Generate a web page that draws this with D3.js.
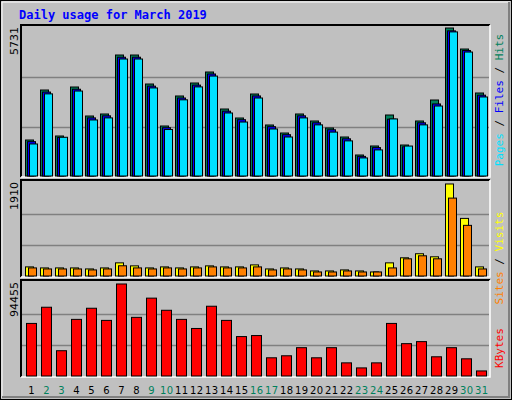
<!DOCTYPE html><html><head><script src="https://d3js.org/d3.v7.min.js"></script>
<style>body{margin:0;background:#fff}</style></head><body><script>
const days=d3.range(1,32);
const weekend=[2,3,9,10,16,17,23,24,30,31];
const hits=[1394,3330,1549,3446,2323,2401,4685,4685,3562,1936,3098,3601,4027,2594,2246,3175,1975,1665,2401,2130,1859,1510,813,1162,2362,1200,2130,2943,5731,4917,3214];
const files=[1330,3250,1490,3360,2250,2330,4600,4600,3480,1870,3020,3520,3950,2510,2180,3100,1910,1600,2330,2060,1790,1440,760,1100,2200,1130,2060,2790,5620,4860,3130];
const pages=[1240,3180,1500,3290,2170,2250,4530,4530,3410,1800,2950,3450,3870,2440,2090,3020,1820,1510,2250,1980,1700,1360,700,1010,2210,1160,1980,2710,5580,4800,3060];
const visits=[187,166,166,166,145,166,270,208,166,187,166,187,208,187,187,228,145,166,145,104,104,125,104,83,270,374,457,394,1890,1183,187];
const sites=[166,145,145,145,125,145,210,166,145,166,145,166,187,166,166,187,125,145,125,83,83,104,83,83,166,353,415,353,1600,1040,145];
const kbytes=[53400,69840,25680,57510,68810,56480,93450,59570,79080,66750,57510,48270,70860,56480,40050,41080,18490,20540,28760,18490,28760,13350,8220,13350,53400,32860,34920,19510,28760,17460,5140];
const maxes=[5731,1910,94455];
const W=512,H=400;
const svg=d3.select("body").append("svg").attr("width",W).attr("height",H).style("font-family","DejaVu Sans Mono");
svg.append("rect").attr("x",0.5).attr("y",0.5).attr("width",W-1).attr("height",H-1).attr("fill","#c0c0c0").attr("stroke","#000");
svg.append("path").attr("d","M2,398V2H510").attr("fill","none").attr("stroke","#fff");
svg.append("path").attr("d","M2,397H509V2").attr("fill","none").attr("stroke","#808080").attr("stroke-width",2);
svg.append("text").attr("x",19).attr("y",19).text("Daily usage for March 2019").attr("fill","#0000ff").attr("font-weight","bold").attr("font-size",12);
const x=d3.scaleBand().domain(days).range([21,486]).padding(0);
const panels=[{top:25,bot:177},{top:180,bot:277},{top:280,bot:377}];
panels.forEach((p,i)=>{
  svg.append("rect").attr("x",21).attr("y",p.top).attr("width",469).attr("height",p.bot-p.top).attr("fill","#c0c0c0");
  svg.append("path").attr("d",`M21,${p.bot}V${p.top}H490`).attr("fill","none").attr("stroke","#000").attr("stroke-width",2);
  svg.append("path").attr("d",`M21,${p.bot}H490V${p.top}`).attr("fill","none").attr("stroke","#fff").attr("stroke-width",1.5);
});
const ys=panels.map((p,i)=>d3.scaleLinear().domain([0,maxes[i]]).range([p.bot-1,p.top+3]));
ys.forEach((y,i)=>{
  [1/3,2/3].forEach(f=>svg.append("line").attr("x1",22).attr("x2",489).attr("y1",Math.round(y(maxes[i]*f))+0.5).attr("y2",Math.round(y(maxes[i]*f))+0.5).attr("stroke","#808080").attr("stroke-width",1.5));
  svg.append("text").attr("transform",`translate(18,${panels[i].top+2}) rotate(-90)`).attr("text-anchor","end").attr("font-size",11).attr("font-family","DejaVu Sans").text(maxes[i]);
});
function bars(data,yi,off,w,col){
  const y=ys[yi];
  svg.append("g").selectAll("rect").data(data).join("rect")
   .attr("x",(d,i)=>x(days[i])+off+0.5).attr("y",d=>y(d)).attr("width",w).attr("height",d=>y(0)-y(d))
   .attr("fill",col).attr("stroke","#000").attr("stroke-width",1);
}
bars(hits,0,4,8,"#00805c");bars(files,0,6,8,"#0000ff");bars(pages,0,8,8,"#00e0ff");
bars(visits,1,4,8,"#ffff00");bars(sites,1,7,8,"#ff8000");
bars(kbytes,2,5,10,"#ff0000");
svg.append("g").selectAll("text").data(days).join("text").attr("x",d=>x(d)+x.bandwidth()/2+3).attr("y",394)
 .attr("text-anchor","middle").attr("font-size",10).attr("textLength",d=>d>9?13:null).attr("font-family","DejaVu Sans").attr("fill",d=>weekend.includes(d)?"#00805c":"#000").text(d=>d);
function rlabel(cy,parts){
  const t=svg.append("text").attr("transform",`translate(503,${cy}) rotate(-90)`).attr("text-anchor","middle").attr("font-size",11);
  parts.forEach(([s,c])=>t.append("tspan").attr("fill",c).text(s));
}
rlabel(100,[["Pages","#00e0ff"],[" / ","#000"],["Files","#0000ff"],[" / ","#000"],["Hits","#00805c"]]);
rlabel(258,[["Sites","#ff8000"],[" / ","#000"],["Visits","#ffff00"]]);
rlabel(348,[["KBytes","#ff0000"]]);
</script></body></html>
